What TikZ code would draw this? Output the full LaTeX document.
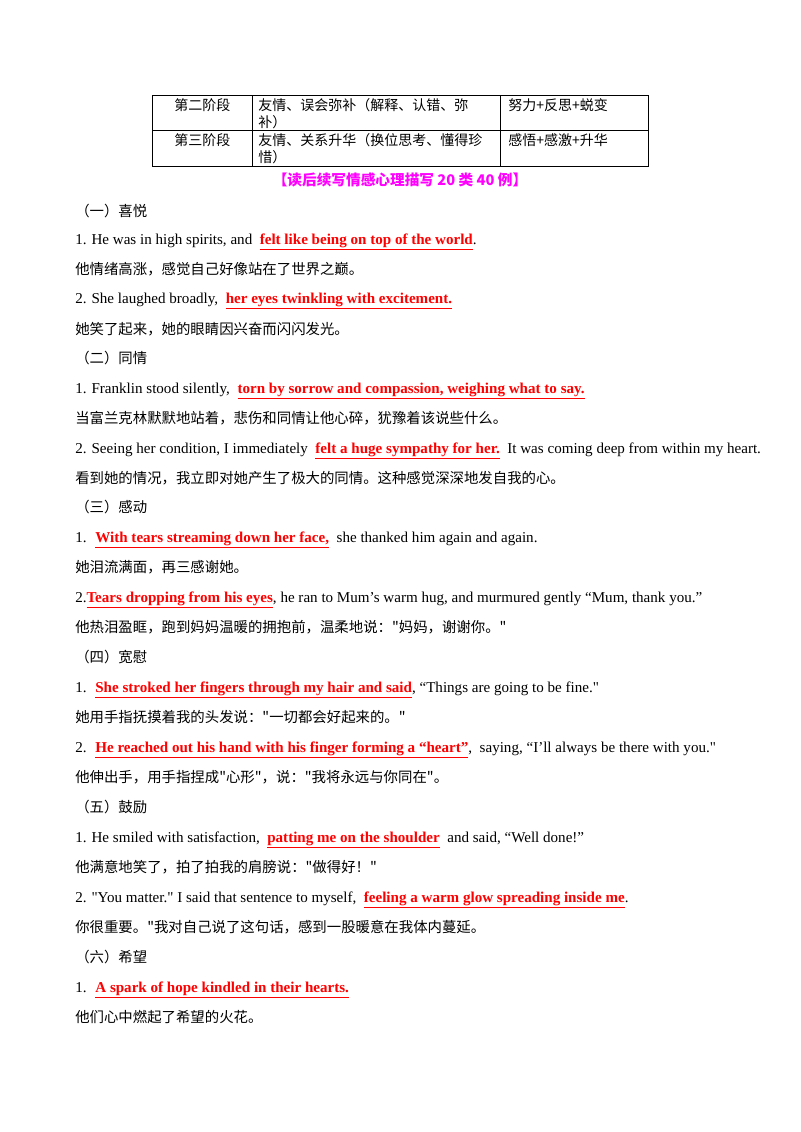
\documentclass[tikz,border=0pt]{standalone}
\usepackage{fontspec}
\setmainfont{Liberation Serif}
\newfontfamily\cjk{Noto Sans CJK SC}
\definecolor{hl}{RGB}{255,0,0}
\definecolor{mg}{RGB}{255,0,255}
\newcommand{\hlt}[1]{{\color{hl}\bfseries\underline{#1}}}
\begin{document}
\begin{tikzpicture}[x=0.75pt,y=-0.75pt,
  t/.style={anchor=base west,inner sep=0pt,yshift=-3pt,font=\fontsize{11.3}{12}\selectfont},
  c/.style={anchor=base west,inner sep=0pt,yshift=-3.5pt,font=\cjk\fontsize{10.8}{12}\selectfont},
  cell/.style={anchor=north west,inner sep=0pt,align=left,font=\cjk\fontsize{10.5}{13}\selectfont}]
\useasboundingbox (0,0) rectangle (800,1132);
\draw[line width=0.6pt] (152,95) rectangle (648,166);
\draw[line width=0.6pt] (152,130) -- (648,130) (252,95) -- (252,166) (500,95) -- (500,166);
\node[cell] (a1) at (174,98) {第二阶段};
\node[cell,text width=235] (a2) at (258,98) {友情、误会弥补（解释、认错、弥\\补）};
\node[cell] (a3) at (508,98) {努力+反思+蜕变};
\node[cell] (b1) at (174,133) {第三阶段};
\node[cell,text width=235] (b2) at (258,133) {友情、关系升华（换位思考、懂得珍\\惜）};
\node[cell] (b3) at (508,133) {感悟+感激+升华};
\node[anchor=center,inner sep=0pt,font=\cjk\bfseries\fontsize{11}{12}\selectfont,text=mg] (title) at (400,180) {【读后续写情感心理描写 20 类 40 例】};
\node[c] (h1) at (75,212) {（一）喜悦};
\node[t] (l1) at (75,240) {1. He was in high spirits, and \ \hlt{felt like being on top of the world}.};
\node[c] (z1) at (75,270) {他情绪高涨，感觉自己好像站在了世界之巅。};
\node[t] (l2) at (75,299) {2. She laughed broadly, \ \hlt{her eyes twinkling with excitement.}};
\node[c] (z2) at (75,330) {她笑了起来，她的眼睛因兴奋而闪闪发光。};
\node[c] (h2) at (75,359) {（二）同情};
\node[t] (l3) at (75,389) {1. Franklin stood silently, \ \hlt{torn by sorrow and compassion, weighing what to say.}};
\node[c] (z3) at (75,419) {当富兰克林默默地站着，悲伤和同情让他心碎，犹豫着该说些什么。};
\node[t] (l4) at (75,449) {2. Seeing her condition, I immediately \ \hlt{felt a huge sympathy for her.} \ It was coming deep from within my heart.};
\node[c] (z4) at (75,479) {看到她的情况，我立即对她产生了极大的同情。这种感觉深深地发自我的心。};
\node[c] (h3) at (75,508) {（三）感动};
\node[t] (l5) at (75,538) {1. \ \hlt{With tears streaming down her face,} \ she thanked him again and again.};
\node[c] (z5) at (75,568) {她泪流满面，再三感谢她。};
\node[t] (l6) at (75,598) {2.\hlt{Tears dropping from his eyes}, he ran to Mum’s warm hug, and murmured gently “Mum, thank you.”};
\node[c] (z6) at (75,628) {他热泪盈眶，跑到妈妈温暖的拥抱前，温柔地说：\textquotedbl 妈妈，谢谢你。\textquotedbl};
\node[c] (h4) at (75,658) {（四）宽慰};
\node[t] (l7) at (75,688) {1. \ \hlt{She stroked her fingers through my hair and said}, “Things are going to be fine.\textquotedbl};
\node[c] (z7) at (75,718) {她用手指抚摸着我的头发说：\textquotedbl 一切都会好起来的。\textquotedbl};
\node[t] (l8) at (75,748) {2. \ \hlt{He reached out his hand with his finger forming a “heart”}, \ saying, “I’ll always be there with you.\textquotedbl};
\node[c] (z8) at (75,778) {他伸出手，用手指捏成\textquotedbl 心形\textquotedbl，说：\textquotedbl 我将永远与你同在\textquotedbl。};
\node[c] (h5) at (75,808) {（五）鼓励};
\node[t] (l9) at (75,838) {1. He smiled with satisfaction, \ \hlt{patting me on the shoulder} \ and said, “Well done!”};
\node[c] (z9) at (75,868) {他满意地笑了，拍了拍我的肩膀说：\textquotedbl 做得好！\textquotedbl};
\node[t] (l10) at (75,898) {2. \textquotedbl You matter.\textquotedbl\ I said that sentence to myself, \ \hlt{feeling a warm glow spreading inside me}.};
\node[c] (z10) at (75,928) {你很重要。\textquotedbl 我对自己说了这句话，感到一股暖意在我体内蔓延。};
\node[c] (h6) at (75,958) {（六）希望};
\node[t] (l11) at (75,988) {1. \ \hlt{A spark of hope kindled in their hearts.}};
\node[c] (z11) at (75,1018) {他们心中燃起了希望的火花。};
\end{tikzpicture}
\end{document}
